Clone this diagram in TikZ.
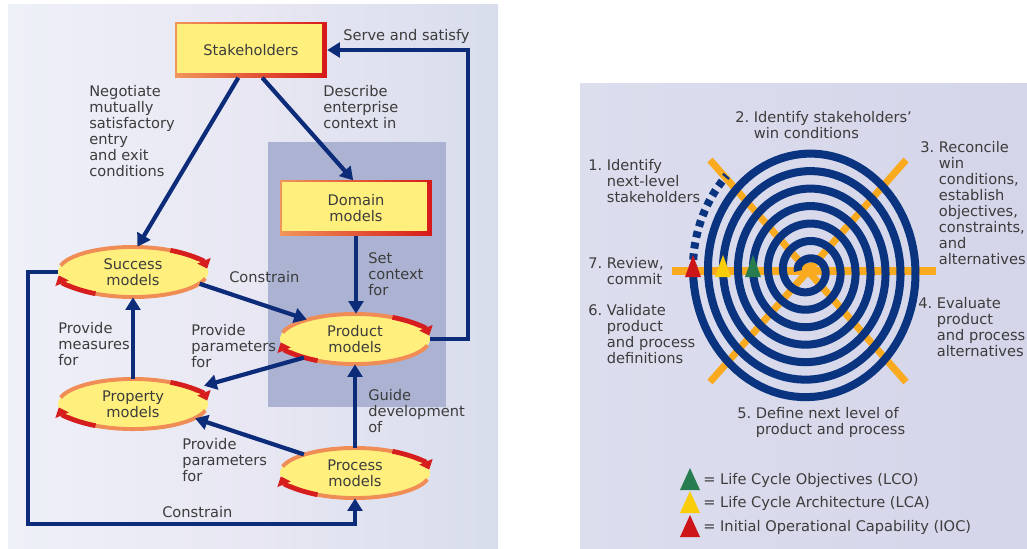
\documentclass[tikz,border=0pt]{standalone}
\usepackage{fontspec}
\setmainfont{DejaVu Sans}
\usetikzlibrary{arrows.meta,shapes.geometric}

\definecolor{navy}{RGB}{12,44,122}
\definecolor{spiralblue}{RGB}{10,52,128}
\definecolor{axisorange}{RGB}{250,170,30}
\definecolor{boxfill}{RGB}{255,240,125}
\definecolor{edgelight}{RGB}{240,150,90}
\definecolor{edgered}{RGB}{215,25,25}
\definecolor{rimorange}{RGB}{240,140,85}
\definecolor{rimred}{RGB}{215,30,30}
\definecolor{textgrey}{RGB}{60,60,60}
\definecolor{panelleft}{RGB}{238,240,248}
\definecolor{panelmid}{RGB}{232,231,243}
\definecolor{panelright}{RGB}{216,221,236}
\definecolor{contextblue}{RGB}{172,179,210}
\definecolor{spiralleft}{RGB}{220,222,238}
\definecolor{spiralright}{RGB}{212,213,233}
\definecolor{lcogreen}{RGB}{40,125,80}
\definecolor{lcayellow}{RGB}{250,205,10}
\definecolor{iocred}{RGB}{205,20,25}

\tikzset{
  lbl/.style={inner sep=0pt, align=left, text=textgrey, font=\fontsize{10.4}{11.4}\selectfont},
  box/.style={rectangle, fill=boxfill, minimum width=108pt, minimum height=39pt, inner sep=0pt,
    align=center, text=textgrey, font=\fontsize{10.4}{11.4}\selectfont,
    path picture={
      \shade[left color=edgelight, right color=edgered] (path picture bounding box.south west) rectangle (path picture bounding box.north east);
      \fill[boxfill] ([shift={(1.2pt,-1.2pt)}]path picture bounding box.north west) rectangle ([shift={(-3.2pt,3.2pt)}]path picture bounding box.south east);
    }},
  model/.style={ellipse, fill=boxfill, inner sep=0pt, minimum width=106.7pt, minimum height=35.6pt,
    align=center, text=textgrey, font=\fontsize{10.4}{11.4}\selectfont},
  link/.style={draw=navy, line width=3pt, -{Triangle[length=9pt,width=10.5pt]}},
  rim/.style={draw=rimorange, line width=2.8pt},
  rimhead/.style={draw=rimred, line width=3.4pt, -{Triangle[length=6pt,width=10pt]}},
  axis/.style={draw=axisorange, line width=5pt},
  turn/.style={draw=spiralblue, line width=5.7pt, line join=round}
}

\begin{document}
\begin{tikzpicture}[x=0.025cm, y=-0.025cm]
\useasboundingbox (0,0) rectangle (1027,548);

% Backgrounds of the two panels
\shade[left color=panelleft, right color=panelright, middle color=panelmid] (8,4) rectangle (498,548);
\fill[contextblue] (268,142) rectangle (446,407);
\shade[left color=spiralleft, right color=spiralright] (580,83) rectangle (1027,548);

% Models and stakeholders
\node[box] (stake) at (251,50) {Stakeholders};
\node[box] (domain) at (356,208) {Domain\\models};
\node[model] (succ) at (133,272) {Success\\models};
\node[model] (prod) at (355,339) {Product\\models};
\node[model] (prop) at (133,404) {Property\\models};
\node[model] (proc) at (355,473) {Process\\models};

% Turning rims round the model ellipses
\foreach \n in {succ,prod,prop,proc} {
  \draw[rim] ([shift={(165:53.3pt and 17.8pt)}]\n.center) arc[start angle=165, end angle=30, x radius=53.3pt, y radius=17.8pt];
  \draw[rimhead] ([shift={(60:53.3pt and 17.8pt)}]\n.center) arc[start angle=60, end angle=8, x radius=53.3pt, y radius=17.8pt];
  \draw[rim] ([shift={(-15:53.3pt and 17.8pt)}]\n.center) arc[start angle=-15, end angle=-150, x radius=53.3pt, y radius=17.8pt];
  \draw[rimhead] ([shift={(-120:53.3pt and 17.8pt)}]\n.center) arc[start angle=-120, end angle=-172, x radius=53.3pt, y radius=17.8pt];
}

% Connectors
\coordinate (servex) at (468,0);
\coordinate (constx) at (28,524);
\draw[link] ([xshift=-9pt]stake.south) -- (succ.80);
\draw[link] ([xshift=8pt]stake.south) -- ([xshift=-2pt]domain.north);
\draw[link] (domain.south) -- (domain.south |- prod.north);
\draw[link] (succ.-10) -- (prod.158);
\draw[link] (prod.200) -- ([xshift=-3pt,yshift=13pt]prop.east);
\draw[link] (prop.north) -- (succ.south);
\draw[link] (proc.160) -- (prop.-13);
\draw[link] (proc.north) -- (prod.south);
\draw[link] (succ.west) -| (constx) -| (proc.south);
\draw[link] (prod.east) -| (servex |- stake.east) -- (stake.east);

% Connector labels
\node[lbl, anchor=north west] (serve) at (343,29) {Serve and satisfy};
\node[lbl, anchor=north west] (negot) at (89,85) {Negotiate\\mutually\\satisfactory\\entry\\and exit\\conditions};
\node[lbl, anchor=north west] (descr) at (323,85) {Describe\\enterprise\\context in};
\node[lbl, anchor=north west] (setctx) at (368,252) {Set\\context\\for};
\node[lbl, anchor=north west] (constr1) at (229,271) {Constrain};
\node[lbl, anchor=north west] (measures) at (58,322) {Provide\\measures\\for};
\node[lbl, anchor=north west] (params1) at (191,324) {Provide\\parameters\\for};
\node[lbl, anchor=north west] (guide) at (368,389) {Guide\\development\\of};
\node[lbl, anchor=north west] (params2) at (182,438) {Provide\\parameters\\for};
\node[lbl, anchor=north west] (constr2) at (162,506) {Constrain};

% Spiral: orange axes under the blue turns
\draw[axis] (672,271) -- (936,271);
\draw[axis] (710,160) -- (906,382);
\draw[axis] (906,160) -- (710,382);
\fill[axisorange] (809,270) circle[radius=5pt];
\draw[turn] plot[domain=0:2520, samples=700, variable=\u]
  ({808-(10+\u/24)*cos(\u)}, {271-(8+\u/20.571)*sin(\u)});
\draw[turn, dash pattern=on 4.5pt off 3.5pt] plot[domain=2520:2566, samples=20, variable=\u]
  ({808-(10+\u/24)*cos(\u)}, {271-(8+\u/20.571)*sin(\u)});

% Anchor point markers on the axis
\foreach \x/\c in {693/iocred, 723/lcayellow, 753/lcogreen}
  \fill[\c] ({\x-8},277) -- (\x,255) -- ({\x+8},277) -- cycle;

% Spiral steps
\node[lbl, anchor=north west] (win) at (735,111) {2.~Identify stakeholders'\\\hphantom{2.~}win conditions};
\node[lbl, anchor=north west] (next) at (588,159) {1.~Identify\\\hphantom{1.~}next-level\\\hphantom{1.~}stakeholders};
\node[lbl, anchor=north west] (reconcile) at (920,141) {3.~Reconcile\\\hphantom{3.~}win\\\hphantom{3.~}conditions,\\\hphantom{3.~}establish\\\hphantom{3.~}objectives,\\\hphantom{3.~}constraints,\\\hphantom{3.~}and\\\hphantom{3.~}alternatives};
\node[lbl, anchor=north west] (review) at (588,257) {7.~Review,\\\hphantom{7.~}commit};
\node[lbl, anchor=north west] (validate) at (588,304) {6.~Validate\\\hphantom{6.~}product\\\hphantom{6.~}and process\\\hphantom{6.~}definitions};
\node[lbl, anchor=north west] (evaluate) at (918,297) {4.~Evaluate\\\hphantom{4.~}product\\\hphantom{4.~}and process\\\hphantom{4.~}alternatives};
\node[lbl, anchor=north west] (define) at (737,407) {5.~Define next level of\\\hphantom{5.~}product and process};

% Legend
\fill[lcogreen] (680,490) -- (690,468) -- (700,490) -- cycle;
\fill[lcayellow] (680,513) -- (690,491) -- (700,513) -- cycle;
\fill[iocred] (680,537) -- (690,515) -- (700,537) -- cycle;
\node[lbl, anchor=west] (lco) at (703,480) {= Life Cycle Objectives (LCO)};
\node[lbl, anchor=west] (lca) at (703,503) {= Life Cycle Architecture (LCA)};
\node[lbl, anchor=west] (ioc) at (703,527) {= Initial Operational Capability (IOC)};
\end{tikzpicture}
\end{document}
